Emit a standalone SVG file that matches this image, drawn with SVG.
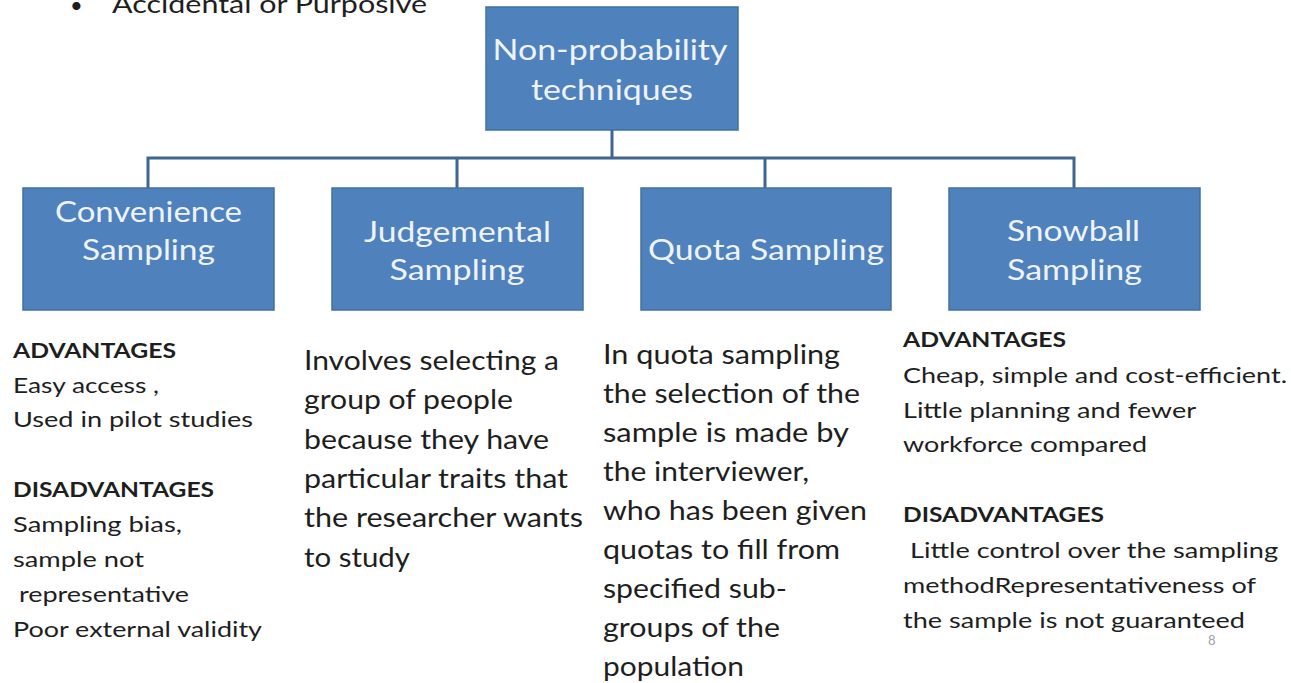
<svg xmlns="http://www.w3.org/2000/svg" width="1291" height="683" viewBox="0 0 1291 683">
<style>
.box{fill:#4F81BD;stroke:#41719C;stroke-width:1.5}
.lbl{font-family:Lato,"Open Sans","Liberation Sans",sans-serif;fill:#EEF3FA;font-size:29px;text-anchor:middle}
.body{font-family:Lato,"Open Sans","Liberation Sans",sans-serif;fill:#1E1E1E}
.sm{font-size:21px}
.lg{font-size:26px}
.b{font-weight:bold}
.conn{stroke:#3E6690;stroke-width:3;fill:none}
text{white-space:pre}
</style>
<rect width="1291" height="683" fill="#FFFFFF"/>
<g id="header">
<text class="body" font-size="22" x="70" y="13">•</text>
<text class="body" font-size="25" x="112" y="13" textLength="315" lengthAdjust="spacingAndGlyphs">Accidental or Purposive</text>
</g>
<g id="connectors">
<path class="conn" d="M612 130 V158 M148 188 V158 H1074 V188 M457 158 V188 M765 158 V188"/>
</g>
<g id="root">
<rect class="box" x="486" y="7" width="252" height="123"/>
<text class="lbl" x="610" y="60" textLength="235" lengthAdjust="spacingAndGlyphs">Non-probability</text>
<text class="lbl" x="612" y="100" textLength="162" lengthAdjust="spacingAndGlyphs">techniques</text>
</g>
<g id="convenience">
<rect class="box" x="23" y="188" width="251" height="122"/>
<text class="lbl" x="148.5" y="222" textLength="187" lengthAdjust="spacingAndGlyphs">Convenience</text>
<text class="lbl" x="148.5" y="260" textLength="133" lengthAdjust="spacingAndGlyphs">Sampling</text>
</g>
<g id="judgemental">
<rect class="box" x="332" y="188" width="251" height="122"/>
<text class="lbl" x="457.5" y="242" textLength="187" lengthAdjust="spacingAndGlyphs">Judgemental</text>
<text class="lbl" x="457" y="280" textLength="135" lengthAdjust="spacingAndGlyphs">Sampling</text>
</g>
<g id="quota">
<rect class="box" x="641" y="188" width="250" height="122"/>
<text class="lbl" x="766" y="260" textLength="236" lengthAdjust="spacingAndGlyphs">Quota Sampling</text>
</g>
<g id="snowball">
<rect class="box" x="949" y="188" width="251" height="122"/>
<text class="lbl" x="1073.5" y="241" textLength="133" lengthAdjust="spacingAndGlyphs">Snowball</text>
<text class="lbl" x="1074.5" y="280" textLength="135" lengthAdjust="spacingAndGlyphs">Sampling</text>
</g>
<g id="convenience-text" class="body sm">
<text class="b" x="13" y="358" textLength="163" lengthAdjust="spacingAndGlyphs">ADVANTAGES</text>
<text x="13" y="393" textLength="146" lengthAdjust="spacingAndGlyphs">Easy access ,</text>
<text x="13" y="427" textLength="240" lengthAdjust="spacingAndGlyphs">Used in pilot studies</text>
<text class="b" x="13" y="497" textLength="201" lengthAdjust="spacingAndGlyphs">DISADVANTAGES</text>
<text x="13" y="532" textLength="169" lengthAdjust="spacingAndGlyphs">Sampling bias,</text>
<text x="13" y="567" textLength="131" lengthAdjust="spacingAndGlyphs">sample not</text>
<text x="19" y="602" textLength="170" lengthAdjust="spacingAndGlyphs">representative</text>
<text x="13" y="637" textLength="249" lengthAdjust="spacingAndGlyphs">Poor external validity</text>
</g>
<g id="judgemental-text" class="body lg">
<text x="304" y="370" textLength="255" lengthAdjust="spacingAndGlyphs">Involves selecting a</text>
<text x="304" y="409" textLength="209" lengthAdjust="spacingAndGlyphs">group of people</text>
<text x="304" y="449" textLength="245" lengthAdjust="spacingAndGlyphs">because they have</text>
<text x="304" y="488" textLength="264" lengthAdjust="spacingAndGlyphs">particular traits that</text>
<text x="304" y="527" textLength="279" lengthAdjust="spacingAndGlyphs">the researcher wants</text>
<text x="304" y="567" textLength="106" lengthAdjust="spacingAndGlyphs">to study</text>
</g>
<g id="quota-text" class="body lg">
<text x="603" y="364" textLength="237" lengthAdjust="spacingAndGlyphs">In quota sampling</text>
<text x="603" y="403" textLength="257" lengthAdjust="spacingAndGlyphs">the selection of the</text>
<text x="603" y="442" textLength="246" lengthAdjust="spacingAndGlyphs">sample is made by</text>
<text x="603" y="481" textLength="206" lengthAdjust="spacingAndGlyphs">the interviewer,</text>
<text x="603" y="520" textLength="264" lengthAdjust="spacingAndGlyphs">who has been given</text>
<text x="603" y="559" textLength="237" lengthAdjust="spacingAndGlyphs">quotas to fill from</text>
<text x="603" y="598" textLength="184" lengthAdjust="spacingAndGlyphs">specified sub-</text>
<text x="603" y="637" textLength="177" lengthAdjust="spacingAndGlyphs">groups of the</text>
<text x="603" y="676" textLength="141" lengthAdjust="spacingAndGlyphs">population</text>
</g>
<g id="snowball-text" class="body sm">
<text class="b" x="903" y="347" textLength="163" lengthAdjust="spacingAndGlyphs">ADVANTAGES</text>
<text x="903" y="383" textLength="384" lengthAdjust="spacingAndGlyphs">Cheap, simple and cost-efficient.</text>
<text x="903" y="418" textLength="293" lengthAdjust="spacingAndGlyphs">Little planning and fewer</text>
<text x="903" y="452" textLength="244" lengthAdjust="spacingAndGlyphs">workforce compared</text>
<text class="b" x="903" y="522" textLength="201" lengthAdjust="spacingAndGlyphs">DISADVANTAGES</text>
<text x="910" y="558" textLength="368" lengthAdjust="spacingAndGlyphs">Little control over the sampling</text>
<text x="903" y="593" textLength="353" lengthAdjust="spacingAndGlyphs">methodRepresentativeness of</text>
<text x="903" y="628" textLength="342" lengthAdjust="spacingAndGlyphs">the sample is not guaranteed</text>
<text x="1208" y="645" font-size="13" fill="#A0A0A0">8</text>
</g>
</svg>
